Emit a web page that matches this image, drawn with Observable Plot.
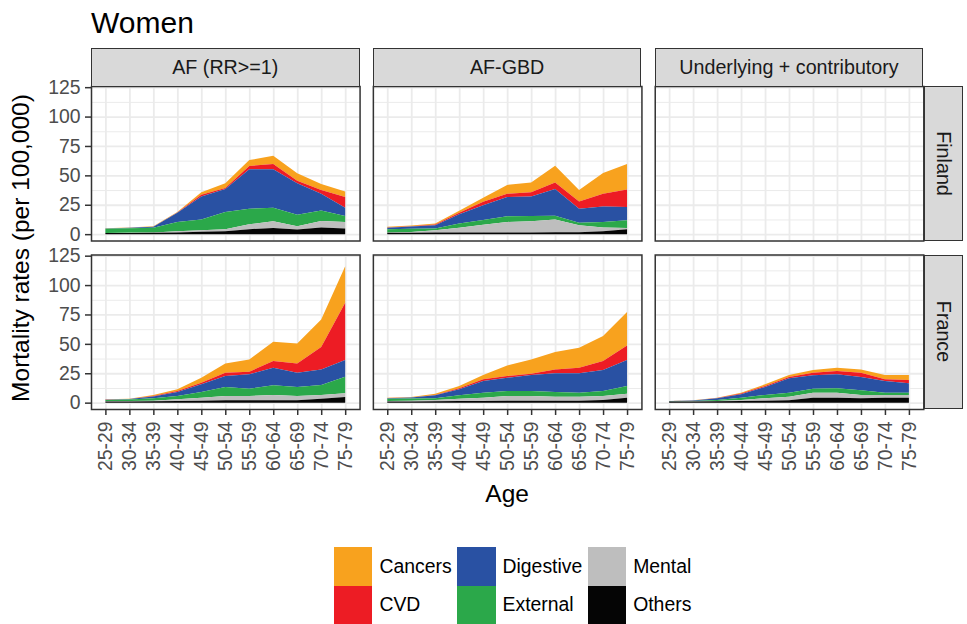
<!DOCTYPE html>
<html>
<head>
<meta charset="utf-8">
<script src="https://cdn.jsdelivr.net/npm/d3@7"></script>
<script src="https://cdn.jsdelivr.net/npm/@observablehq/plot@0.6"></script>
<style>
  body { margin: 0; background: #fff; font-family: "Liberation Sans", Arial, sans-serif; }
  #wrap { position: relative; width: 967px; height: 624px; overflow: hidden; background: #fff; }
  #wrap svg { position: absolute; left: 0; top: 0; }
  .title { position: absolute; left: 91px; top: 7.5px; font-size: 30px; line-height: 1; color: #000; }
  .axis-title { position: absolute; font-size: 24.5px; line-height: 1; color: #000; white-space: nowrap; }
  .strip { position: absolute; box-sizing: border-box; background: #d9d9d9; border: 1.5px solid #333;
           display: flex; align-items: center; justify-content: center; font-size: 19.7px; color: #1a1a1a; white-space: nowrap; }
  .strip.right span { transform: rotate(90deg); display: inline-block; }
  .legend { position: absolute; left: 334px; top: 547.3px; display: grid; grid-auto-flow: column;
            grid-template-rows: 38.4px 38.4px; column-gap: 5.5px; }
  .legend .item { display: flex; align-items: center; font-size: 19.4px; color: #000; }
  .legend .key { width: 38.4px; height: 38.4px; margin-right: 7px; }
</style>
</head>
<body>
<div id="wrap">
  <div class="title">Women</div>
</div>
<script>
// Age groups, panel facets and causes of death
const ages = ["25-29", "30-34", "35-39", "40-44", "45-49", "50-54", "55-59", "60-64", "65-69", "70-74", "75-79"];
const methods = ["AF (RR>=1)", "AF-GBD", "Underlying + contributory"];
const countries = ["Finland", "France"];
const causes = ["Cancers", "CVD", "Digestive", "External", "Mental", "Others"];
const causeColors = ["#f8a21e", "#ed1c24", "#2951a3", "#2ba84a", "#bebebe", "#050505"];
const yMajor = [0, 25, 50, 75, 100, 125];
const yMinor = [12.5, 37.5, 62.5, 87.5, 112.5];

// Mortality rates per 100,000 by age group
// Finland, AF (RR>=1)
const fiRR_cancers   = [0.3, 0.2, 0.3, 0.3, 2.2, 4.0, 5.0, 7.0, 6.2, 5.1, 4.7];
const fiRR_cvd       = [0.0, 0.0, 0.1, 0.2, 1.5, 0.8, 2.7, 4.3, 2.2, 3.3, 9.0];
const fiRR_digestive = [0.2, 0.4, 0.8, 7.9, 19.6, 19.7, 33.7, 32.8, 26.7, 14.1, 7.1];
const fiRR_external  = [3.5, 3.9, 4.1, 7.9, 9.0, 14.6, 13.2, 11.5, 9.9, 9.0, 5.0];
const fiRR_mental    = [0.0, 0.1, 0.3, 1.0, 1.4, 1.7, 4.2, 5.7, 2.8, 5.6, 5.6];
const fiRR_others    = [1.0, 1.0, 1.1, 1.5, 2.0, 2.5, 4.2, 5.3, 3.9, 5.6, 4.8];

// Finland, AF-GBD
const fiGBD_cancers   = [0.5, 0.5, 0.8, 1.8, 3.5, 7.6, 8.3, 14.1, 9.8, 17.7, 21.7];
const fiGBD_cvd       = [0.2, 0.3, 0.6, 1.2, 3.0, 2.8, 3.7, 5.5, 6.2, 10.7, 14.9];
const fiGBD_digestive = [1.3, 2.0, 2.8, 8.0, 12.5, 16.3, 16.6, 22.8, 12.0, 13.2, 11.2];
const fiGBD_external  = [2.7, 2.7, 1.4, 3.5, 4.0, 4.8, 4.4, 3.3, 2.0, 4.8, 6.5];
const fiGBD_mental    = [0.3, 0.6, 2.0, 4.1, 6.6, 8.9, 9.5, 10.7, 5.9, 3.1, 1.1];
const fiGBD_others    = [1.2, 1.2, 1.4, 1.4, 1.4, 1.5, 1.5, 1.7, 1.7, 2.5, 4.2];

// France, AF (RR>=1)
const frRR_cancers   = [0.2, 0.3, 0.8, 1.4, 4.2, 7.9, 10.5, 16.4, 17.0, 23.5, 31.0];
const frRR_cvd       = [0.1, 0.1, 0.4, 0.8, 1.4, 2.8, 2.2, 5.7, 7.9, 19.0, 48.7];
const frRR_digestive = [0.2, 0.4, 1.6, 3.4, 6.5, 9.4, 12.2, 15.0, 12.2, 13.3, 14.2];
const frRR_external  = [1.0, 1.2, 2.0, 2.9, 4.9, 7.6, 6.2, 8.2, 7.6, 8.5, 14.2];
const frRR_mental    = [0.3, 0.4, 0.6, 1.5, 2.6, 3.7, 3.7, 4.5, 3.7, 3.1, 3.1];
const frRR_others    = [1.0, 1.0, 1.1, 1.3, 1.6, 2.0, 2.0, 2.0, 2.0, 3.4, 4.8];

// France, AF-GBD
const frGBD_cancers   = [0.3, 0.4, 1.0, 2.0, 3.7, 9.0, 12.2, 14.8, 17.0, 21.3, 28.3];
const frGBD_cvd       = [0.1, 0.1, 0.4, 0.9, 1.4, 1.5, 1.1, 3.4, 4.8, 7.6, 12.4];
const frGBD_digestive = [0.4, 0.7, 2.5, 5.1, 9.9, 11.3, 13.6, 15.8, 16.4, 17.9, 22.1];
const frGBD_external  = [2.0, 2.0, 1.4, 2.8, 4.3, 4.2, 4.2, 4.0, 3.4, 4.2, 6.6];
const frGBD_mental    = [0.4, 0.6, 1.2, 2.1, 2.7, 4.1, 4.1, 3.5, 3.4, 3.4, 3.4];
const frGBD_others    = [1.0, 1.0, 1.1, 1.3, 1.5, 1.6, 1.6, 1.6, 1.7, 2.3, 4.2];

// France, underlying + contributory causes
const frUC_cancers   = [0.1, 0.1, 0.2, 0.7, 1.4, 1.7, 2.3, 2.8, 2.8, 3.7, 4.2];
const frUC_cvd       = [0.0, 0.0, 0.2, 0.7, 0.9, 1.1, 2.3, 2.8, 3.7, 1.4, 2.9];
const frUC_digestive = [0.1, 0.6, 1.5, 2.9, 6.8, 12.2, 11.3, 11.9, 11.3, 9.9, 7.9];
const frUC_external  = [0.2, 0.2, 0.9, 1.9, 2.8, 3.4, 3.4, 3.7, 4.0, 2.0, 2.0];
const frUC_mental    = [0.0, 0.1, 0.3, 1.0, 2.0, 3.1, 4.3, 4.3, 2.8, 2.3, 2.3];
const frUC_others    = [1.0, 1.0, 1.1, 1.3, 1.7, 2.0, 4.2, 4.2, 3.7, 4.2, 4.2];

// One entry per panel; series follow the order of `causes`.
// Finland has no underlying + contributory series, so its panel stays empty.
const panels = [
  {method: methods[0], country: "Finland", series: [fiRR_cancers, fiRR_cvd, fiRR_digestive, fiRR_external, fiRR_mental, fiRR_others]},
  {method: methods[1], country: "Finland", series: [fiGBD_cancers, fiGBD_cvd, fiGBD_digestive, fiGBD_external, fiGBD_mental, fiGBD_others]},
  {method: methods[2], country: "Finland", series: null},
  {method: methods[0], country: "France", series: [frRR_cancers, frRR_cvd, frRR_digestive, frRR_external, frRR_mental, frRR_others]},
  {method: methods[1], country: "France", series: [frGBD_cancers, frGBD_cvd, frGBD_digestive, frGBD_external, frGBD_mental, frGBD_others]},
  {method: methods[2], country: "France", series: [frUC_cancers, frUC_cvd, frUC_digestive, frUC_external, frUC_mental, frUC_others]}
];

const rows = panels.flatMap(p => causes.flatMap((cause, k) => ages.map((age, i) => ({
  method: p.method, country: p.country, cause, i,
  value: p.series ? p.series[k][i] : NaN
}))));

// Stack from the bottom up: Others first, Cancers on top
const stackOrder = causes.slice().reverse();

const fxPad = 13.3 / 281.9;
const fyPad = 14 / 168.5;
const gridColor = "#ebebeb";

const plot = Plot.plot({
  width: 967,
  height: 520,
  marginLeft: 91,
  marginRight: 43.7,
  marginTop: 86,
  marginBottom: 111,
  style: {fontFamily: "Liberation Sans, Arial, sans-serif", background: "transparent", overflow: "visible"},
  fx: {domain: methods, paddingInner: fxPad, paddingOuter: 0, round: false, axis: null, label: null},
  fy: {domain: countries, paddingInner: fyPad, paddingOuter: 0, round: false, axis: null, label: null},
  x: {type: "linear", domain: [-0.6, 10.6]},
  y: {domain: [-5.4, 126]},
  color: {domain: causes, range: causeColors},
  marks: [
    Plot.gridY(yMinor, {stroke: gridColor, strokeOpacity: 1, strokeWidth: 1}),
    Plot.gridY(yMajor, {stroke: gridColor, strokeOpacity: 1, strokeWidth: 1.8}),
    Plot.gridX(d3.range(ages.length), {stroke: gridColor, strokeOpacity: 1, strokeWidth: 1.8}),
    Plot.areaY(rows, {
      x: "i", y: "value", fill: "cause", fx: "method", fy: "country",
      order: stackOrder, curve: "linear"
    }),
    Plot.frame({stroke: "#333", strokeWidth: 1.5}),
    Plot.axisY(yMajor, {
      facetAnchor: "left", tickSize: 6, tickPadding: 5, stroke: "#333", strokeWidth: 1.5,
      fill: "#4d4d4d", fontSize: 19.4, label: null, tickFormat: d => String(d)
    }),
    Plot.axisX(d3.range(ages.length), {
      facetAnchor: "bottom", tickSize: 6, tickPadding: 6, stroke: "#333", strokeWidth: 1.5,
      fill: "#4d4d4d", fontSize: 19.4, label: null, tickRotate: -90, tickFormat: i => ages[i]
    })
  ]
});

const wrap = document.getElementById("wrap");
wrap.appendChild(plot);

// Facet strips placed from the plot's own facet scales
const fxOpt = plot.scale("fx");
const fyOpt = plot.scale("fy");
const fx = d3.scaleBand().domain(fxOpt.domain).range(fxOpt.range)
  .paddingInner(fxOpt.paddingInner ?? fxPad).paddingOuter(fxOpt.paddingOuter ?? 0);
const fy = d3.scaleBand().domain(fyOpt.domain).range(fyOpt.range)
  .paddingInner(fyOpt.paddingInner ?? fyPad).paddingOuter(fyOpt.paddingOuter ?? 0);
const stripSize = 38.3;

for (const m of methods) {
  const s = document.createElement("div");
  s.className = "strip";
  s.style.left = fx(m) + "px";
  s.style.top = (fy(countries[0]) - stripSize) + "px";
  s.style.width = fx.bandwidth() + "px";
  s.style.height = (stripSize + 0.75) + "px";
  s.textContent = m;
  wrap.appendChild(s);
}
const lastMethod = methods[methods.length - 1];
for (const c of countries) {
  const s = document.createElement("div");
  s.className = "strip right";
  s.style.left = (fx(lastMethod) + fx.bandwidth() + 1) + "px";
  s.style.top = fy(c) + "px";
  s.style.width = stripSize + "px";
  s.style.height = fy.bandwidth() + "px";
  const t = document.createElement("span");
  t.textContent = c;
  s.appendChild(t);
  wrap.appendChild(s);
}

// Axis titles
const panelsTop = fy(countries[0]);
const panelsBottom = fy(countries[countries.length - 1]) + fy.bandwidth();
const panelsLeft = fx(methods[0]);
const panelsRight = fx(lastMethod) + fx.bandwidth();

const yTitle = document.createElement("div");
yTitle.className = "axis-title";
yTitle.textContent = "Mortality rates (per 100,000)";
yTitle.style.left = "21px";
yTitle.style.top = ((panelsTop + panelsBottom) / 2) + "px";
yTitle.style.transform = "translate(-50%, -50%) rotate(-90deg)";
wrap.appendChild(yTitle);

const xTitle = document.createElement("div");
xTitle.className = "axis-title";
xTitle.textContent = "Age";
xTitle.style.left = ((panelsLeft + panelsRight) / 2) + "px";
xTitle.style.top = "494px";
xTitle.style.transform = "translate(-50%, -50%)";
wrap.appendChild(xTitle);

// Legend
const legend = document.createElement("div");
legend.className = "legend";
causes.forEach((c, k) => {
  const item = document.createElement("div");
  item.className = "item";
  const key = document.createElement("span");
  key.className = "key";
  key.style.background = causeColors[k];
  const lab = document.createElement("span");
  lab.textContent = c;
  item.appendChild(key);
  item.appendChild(lab);
  legend.appendChild(item);
});
wrap.appendChild(legend);
</script>
</body>
</html>
